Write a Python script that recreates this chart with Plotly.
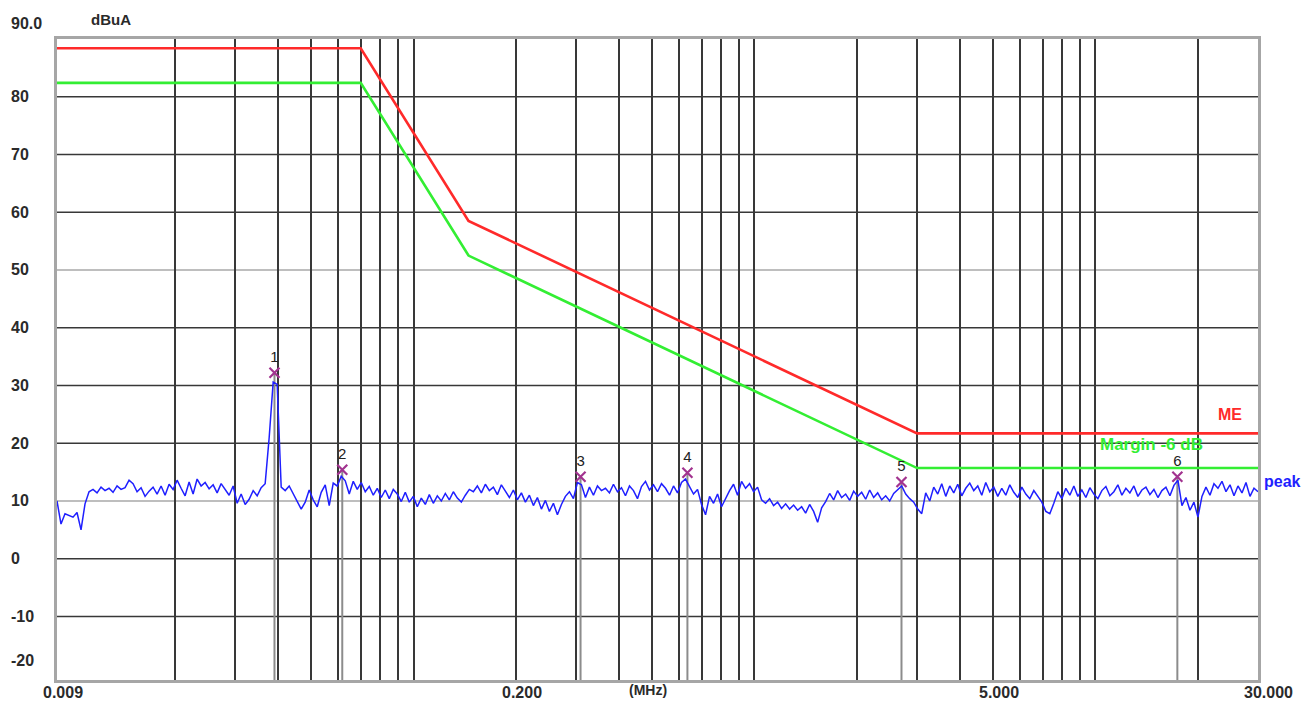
import numpy as np
import plotly.graph_objects as go

# ---- data -------------------------------------------------------------
# limit line (MHz, dBuA)
limit_freq = [0.009, 0.07, 0.145, 3.0, 30.0]
limit_level = [88.4, 88.4, 58.5, 21.7, 21.7]
margin_db = -6.0

# peak detector sweep, 0.009 .. 30 MHz, log-spaced sweep points
peak_level = [
    10.0, 6.0, 7.8, 7.5, 7.2, 8.0, 5.0, 9.5, 11.6, 12.0,
    11.4, 12.4, 11.8, 12.2, 11.5, 12.6, 12.0, 12.3, 13.6, 13.0,
    11.6, 12.3, 10.8, 11.7, 12.4, 11.2, 12.6, 11.0, 12.9, 12.0,
    13.6, 12.2, 10.9, 13.3, 11.2, 13.8, 12.6, 13.2, 12.1, 12.8,
    11.4, 13.0, 12.1, 11.0, 12.6, 9.6, 11.2, 9.4, 10.3, 11.8,
    10.9, 12.3, 13.0, 21.0, 30.6, 30.2, 12.4, 11.8, 12.6, 11.3,
    10.0, 8.6, 9.8, 11.9, 10.2, 9.0, 11.5, 12.8, 9.2, 13.1,
    12.6, 14.3, 13.5, 11.2, 13.4, 12.0, 13.2, 11.6, 12.5, 11.0,
    12.2, 10.6, 11.9, 10.4, 12.0, 11.2, 9.9, 11.5, 9.8, 10.8,
    9.0, 10.5, 9.4, 11.1, 9.6, 10.9, 10.0, 11.3, 10.2, 11.6,
    10.5, 9.8, 11.0, 12.0, 11.6, 12.6, 11.4, 12.9, 11.8, 12.4,
    11.1, 12.8, 11.7, 10.6, 11.9, 10.2, 11.4, 9.8, 11.0, 9.2,
    10.6, 8.6, 10.1, 8.2, 9.6, 7.6, 9.4, 10.8, 11.6, 10.4,
    13.2, 12.8, 10.6, 12.4, 11.0, 12.6, 11.8, 12.2, 11.4, 12.9,
    11.6, 12.3, 10.9, 12.6, 11.8, 10.4, 12.5, 13.4, 11.9, 12.8,
    11.6, 13.0, 12.2, 11.0, 12.6, 11.4, 13.2, 13.8, 12.5, 11.2,
    12.0, 9.4, 7.6, 10.8, 9.6, 11.2, 9.0, 10.4, 11.8, 12.9,
    11.0, 13.4, 12.2, 13.0, 11.6, 12.4, 10.2, 9.6, 10.4, 9.2,
    9.8, 8.7, 9.5, 8.6, 9.3, 8.4, 9.0, 7.9, 9.4, 8.2,
    6.3, 8.8, 9.9, 11.3, 10.2, 11.8, 10.6, 11.2, 10.1, 11.7,
    10.8, 11.5, 10.3, 11.9, 10.6, 11.4, 10.2, 10.9, 10.0, 11.3,
    12.0, 12.6, 11.2, 10.4, 9.8, 8.6, 7.8, 11.4, 10.0, 12.4,
    11.2, 13.0, 10.8, 12.6, 11.4, 12.9, 10.9, 12.2, 13.1, 11.8,
    12.6, 11.0, 13.2, 11.6, 12.4, 10.8, 12.2, 11.0, 12.8, 11.5,
    10.6, 12.4, 11.2, 10.4, 11.8, 10.9, 9.8, 8.2, 7.8, 9.6,
    11.6, 10.4, 12.2, 11.0, 12.6, 10.8, 11.9, 10.6, 12.3, 11.2,
    10.4, 11.8, 12.5, 10.9, 11.6, 12.8, 11.0, 12.2, 11.4, 12.6,
    10.8, 11.9, 12.4, 11.1, 12.0, 10.6, 11.8, 12.4, 10.9, 12.7,
    13.6, 9.2, 10.6, 8.4, 9.8, 7.2, 10.8, 12.4, 11.0, 13.0,
    12.2, 13.4, 11.6, 12.8, 10.9, 12.6, 11.4, 13.2, 10.8, 12.2,
    11.6,
]
peak_freq = np.geomspace(0.009, 30.0, len(peak_level))

# measurement markers
marker_id = ["1", "2", "3", "4", "5", "6"]
marker_freq = [0.0391, 0.0618, 0.309, 0.636, 2.70, 17.4]
marker_level = [32.2, 15.4, 14.2, 14.9, 13.3, 14.2]

# axes
x_min, x_max = 0.009, 30.0
y_min, y_max = -21.0, 90.0
x_grid = [0.02, 0.03, 0.04, 0.05, 0.06, 0.07, 0.08, 0.09,
          0.1, 0.2, 0.3, 0.4, 0.5, 0.6, 0.7, 0.8, 0.9,
          1, 2, 3, 4, 5, 6, 7, 8, 9, 10, 20]
y_grid_dark = [80, 70, 60, 40, 30, 20, 0, -10]
y_grid_light = [50, 10]
y_tick_vals = [90, 80, 70, 60, 50, 40, 30, 20, 10, 0, -10, -20]
y_tick_text = ["90.0", "80", "70", "60", "50", "40", "30", "20", "10", "0", "-10", "-20"]
x_tick_vals = [0.009, 0.2, 5.0, 30.0]
x_tick_text = ["0.009", "0.200", "5.000", "30.000"]
x_unit = "(MHz)"
y_unit = "dBuA"

# ---- figure ------------------------------------------------------------
W, H = 1309, 704
ML, MR, MT, MB = 57, 51, 39, 24
FONT = "Liberation Sans, Arial, sans-serif"
GRID = "#383838"
INK = "#2a2a2a"


def bold(size, color=INK):
    return dict(family=FONT, size=size, color=color, weight="bold")


margin_level = [v + margin_db for v in limit_level]

fig = go.Figure()

# marker drop lines
for f, v in zip(marker_freq, marker_level):
    fig.add_trace(go.Scatter(
        x=[f, f], y=[v, y_min], mode="lines",
        line=dict(color="#8c8c8c", width=2), hoverinfo="skip", showlegend=False))

fig.add_trace(go.Scatter(
    x=peak_freq, y=peak_level, mode="lines", name="peak",
    line=dict(color="#1f1fff", width=1.5), showlegend=False))

fig.add_trace(go.Scatter(
    x=limit_freq, y=margin_level, mode="lines", name="Margin -6 dB",
    line=dict(color="#33ee33", width=2.6), showlegend=False))

fig.add_trace(go.Scatter(
    x=limit_freq, y=limit_level, mode="lines", name="ME",
    line=dict(color="#ff2a2a", width=2.6), showlegend=False))

fig.add_trace(go.Scatter(
    x=marker_freq, y=marker_level, mode="markers+text",
    text=marker_id, textposition="top center",
    textfont=dict(family=FONT, size=15, color="#222222"),
    marker=dict(symbol="x-thin", size=10,
                line=dict(color="#a2338f", width=2.2)),
    showlegend=False))

shapes = []
for v in y_grid_light:
    shapes.append(dict(type="line", xref="paper", x0=0, x1=1, yref="y", y0=v, y1=v,
                       line=dict(color="#a8a8a8", width=1.6), layer="below"))
for v in y_grid_dark:
    shapes.append(dict(type="line", xref="paper", x0=0, x1=1, yref="y", y0=v, y1=v,
                       line=dict(color=GRID, width=1.6), layer="below"))

annotations = []
pw = W - ML - MR
ph = H - MT - MB
for v, t in zip(y_tick_vals, y_tick_text):
    shift = 0
    if v == y_max:
        shift = 16
    elif v == -20:
        shift = 14
    annotations.append(dict(
        text=t, xref="paper", x=(9 - ML) / pw, xanchor="left",
        yref="y", y=v, yanchor="middle", yshift=shift, showarrow=False,
        font=bold(16)))
annotations.append(dict(
    text=y_unit, xref="paper", x=(89 - ML) / pw, xanchor="left",
    yref="paper", y=1 + 19 / ph, yanchor="middle", showarrow=False,
    font=bold(15)))
for v, t in zip(x_tick_vals, x_tick_text):
    annotations.append(dict(
        text=t, xref="x", x=np.log10(v), xanchor="left", xshift=-16,
        yref="paper", y=-12 / ph, yanchor="middle", showarrow=False,
        font=bold(16)))
annotations.append(dict(
    text=x_unit, xref="paper", x=(627 - ML) / pw, xanchor="left",
    yref="paper", y=-10 / ph, yanchor="middle", showarrow=False,
    font=bold(14)))

# trace labels at the right end
annotations.append(dict(
    text="ME", xref="paper", x=(1244 - ML) / pw, xanchor="right",
    yref="y", y=limit_level[-1], yanchor="bottom", yshift=8, showarrow=False,
    font=bold(16, "#ff2a2a")))
annotations.append(dict(
    text="Margin -6 dB", xref="paper", x=(1205 - ML) / pw, xanchor="right",
    yref="y", y=margin_level[-1], yanchor="bottom", yshift=12, showarrow=False,
    font=bold(17, "#33ee33")))
annotations.append(dict(
    text="peak", xref="paper", x=(1262 - ML) / pw, xanchor="left",
    yref="y", y=peak_level[-1], yanchor="bottom", yshift=0, showarrow=False,
    font=bold(16, "#1f1fff")))

fig.update_layout(
    width=W, height=H,
    margin=dict(l=ML, r=MR, t=MT, b=MB, pad=0),
    paper_bgcolor="white", plot_bgcolor="white",
    font=dict(family=FONT, size=16, color=INK),
    shapes=shapes, annotations=annotations,
    xaxis=dict(type="log", range=[np.log10(x_min), np.log10(x_max)],
               tickmode="array", tickvals=x_grid, showticklabels=False,
               ticks="", showgrid=True, gridcolor=GRID, gridwidth=1.6,
               showline=True, linecolor="#a6a6a6", linewidth=2.5, mirror=True,
               zeroline=False),
    yaxis=dict(range=[y_min, y_max], tickmode="array", tickvals=[],
               showticklabels=False, ticks="", showgrid=False,
               showline=True, linecolor="#a6a6a6", linewidth=2.5, mirror=True,
               zeroline=False),
)

fig.write_html("out.html")
